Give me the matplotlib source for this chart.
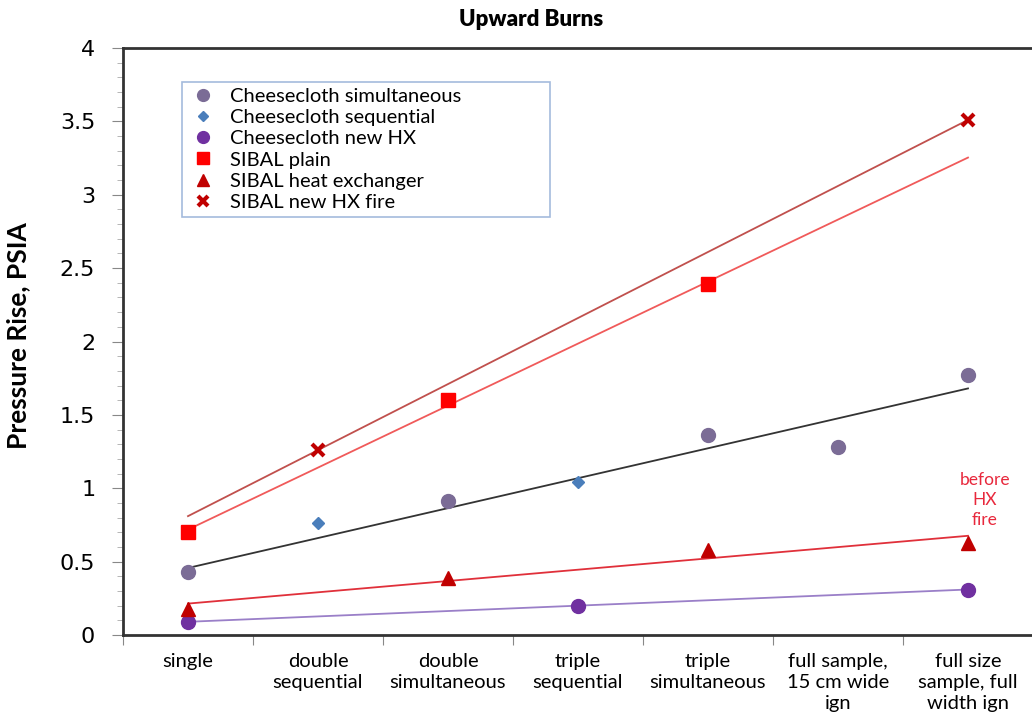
import numpy as np
import matplotlib
matplotlib.use("Agg")
import matplotlib.pyplot as plt

categories = ["single", "double\nsequential", "double\nsimultaneous", "triple\nsequential",
              "triple\nsimultaneous", "full sample,\n15 cm wide\nign", "full size\nsample, full\nwidth ign"]

# x index into categories, y = pressure rise (PSIA)
cc_sim_x = [0, 2, 4, 5, 6]
cc_sim_y = [0.43, 0.91, 1.36, 1.28, 1.77]
cc_seq_x = [1, 3]
cc_seq_y = [0.76, 1.04]
cc_hx_x = [0, 3, 6]
cc_hx_y = [0.09, 0.20, 0.31]
sibal_plain_x = [0, 2, 4]
sibal_plain_y = [0.70, 1.60, 2.39]
sibal_hx_x = [0, 2, 4, 6]
sibal_hx_y = [0.18, 0.39, 0.58, 0.63]
sibal_fire_x = [1, 6]
sibal_fire_y = [1.26, 3.51]

lato = ["Lato", "DejaVu Sans"]

fig = plt.figure(figsize=(10.32, 7.25), dpi=100)
ax = fig.add_axes([123 / 1032, 90 / 725, 910 / 1032, 587 / 725])

def trend(xs, ys, color, lw):
    k, b = np.polyfit(xs, ys, 1)
    xx = np.array([0, 6])
    ax.plot(xx, k * xx + b, color=color, lw=lw, zorder=2)

trend(sibal_fire_x, sibal_fire_y, "#c0504d", 1.3)
trend(sibal_plain_x, sibal_plain_y, "#f05a5a", 1.3)
trend(cc_sim_x, cc_sim_y, "#333333", 1.3)
trend(sibal_hx_x, sibal_hx_y, "#e0303a", 1.3)
trend(cc_hx_x, cc_hx_y, "#9a7fc8", 1.3)

ax.plot(cc_sim_x, cc_sim_y, "o", color="#7b6c96", ms=10, ls="none", label="Cheesecloth simultaneous", zorder=3)
ax.plot(cc_seq_x, cc_seq_y, "D", color="#4a7ebb", ms=6, ls="none", label="Cheesecloth sequential", zorder=3)
ax.plot(cc_hx_x, cc_hx_y, "o", color="#7030a0", ms=10, ls="none", label="Cheesecloth new HX", zorder=3)
ax.plot(sibal_plain_x, sibal_plain_y, "s", color="#ff0000", ms=10, ls="none", label="SIBAL plain", zorder=3)
ax.plot(sibal_hx_x, sibal_hx_y, "^", color="#c00000", ms=10, ls="none", label="SIBAL heat exchanger", zorder=3)
ax.plot(sibal_fire_x, sibal_fire_y, "x", color="#c00000", ms=9, mew=3, ls="none", label="SIBAL new HX fire", zorder=3)

ax.text(6.13, 0.92, "before\nHX\nfire", color="#e8283c", ha="center", va="center",
        fontsize=12.5, family=lato, linespacing=1.3)

ax.set_xlim(-0.5, 6.5)
ax.set_ylim(0, 4)
ax.set_xticks(np.arange(-0.5, 6.6, 1))
ax.set_xticklabels([])
ax.set_xticks(range(len(categories)), minor=True)
ax.set_xticklabels(categories, minor=True, family=lato, fontsize=14.5, linespacing=1.3)
ax.tick_params(axis="x", which="major", length=7, color="#888888", direction="out")
ax.tick_params(axis="x", which="minor", length=0, pad=13)

ax.set_yticks(np.arange(0, 4.01, 0.5))
ax.set_yticklabels(["0", "0.5", "1", "1.5", "2", "2.5", "3", "3.5", "4"])
ax.set_yticks(np.arange(0, 4.01, 0.1), minor=True)
ax.tick_params(axis="y", which="major", length=8, labelsize=16, color="#888888", pad=12)
ax.tick_params(axis="y", which="minor", length=4, color="#aaaaaa")

for s in ["left", "bottom", "top"]:
    ax.spines[s].set_color("#333333")
    ax.spines[s].set_linewidth(2)
ax.spines["right"].set_visible(False)

ax.set_ylabel("Pressure Rise, PSIA", fontsize=19, family=lato, fontweight="bold")
ax.yaxis.set_label_coords(-93 / 910, 0.51)
fig.text(531 / 1032, 1 - 19 / 725, "Upward Burns", ha="center", va="center",
         fontsize=16, family=lato, fontweight="heavy")

leg = ax.legend(loc="upper left", bbox_to_anchor=(59 / 910, 421 / 587, 368 / 910, 132 / 587),
                mode="expand", borderaxespad=0,
                prop={"family": lato, "size": 14.5}, fancybox=False, frameon=True,
                handletextpad=0.6, labelspacing=0.2, borderpad=0.3, handlelength=1.5,
                markerscale=0.85)
leg.get_frame().set_edgecolor("#8eaad4")
leg.get_frame().set_linewidth(1.2)

fig.savefig("out.png", dpi=100)
